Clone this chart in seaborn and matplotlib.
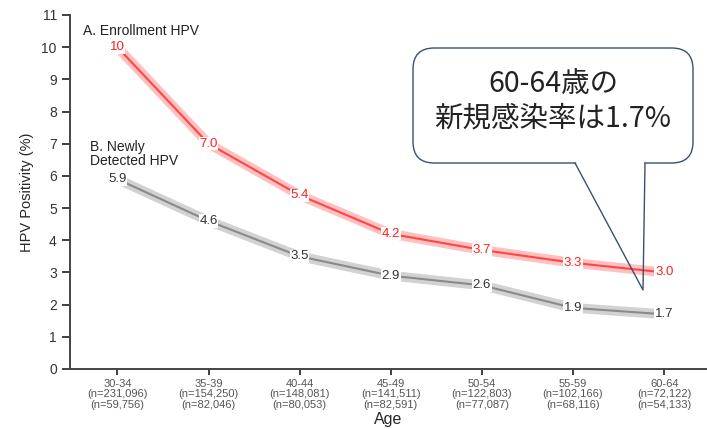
import matplotlib
matplotlib.use("Agg")
import matplotlib.pyplot as plt
import matplotlib.patheffects as pe
from matplotlib.patches import FancyBboxPatch, Polygon
from matplotlib.lines import Line2D
import pandas as pd
import seaborn as sns

# data
ages = ["30-34", "35-39", "40-44", "45-49", "50-54", "55-59", "60-64"]
n_enroll = ["231,096", "154,250", "148,081", "141,511", "122,803", "102,166", "72,122"]
n_new = ["59,756", "82,046", "80,053", "82,591", "77,087", "68,116", "54,133"]
enrollment = [10, 7.0, 5.4, 4.2, 3.7, 3.3, 3.0]
newly = [5.9, 4.6, 3.5, 2.9, 2.6, 1.9, 1.7]
enroll_labels = ["10", "7.0", "5.4", "4.2", "3.7", "3.3", "3.0"]
newly_labels = ["5.9", "4.6", "3.5", "2.9", "2.6", "1.9", "1.7"]

sns.set_style("ticks")
plt.rcParams["font.family"] = ["Liberation Sans", "DejaVu Sans"]

df = pd.DataFrame({
    "Age": ages * 2,
    "value": enrollment + newly,
    "series": ["A"] * len(ages) + ["B"] * len(ages),
})
df["x"] = list(range(len(ages))) * 2

W, H = 707, 429
fig = plt.figure(figsize=(W / 100, H / 100), dpi=100)
ax = fig.add_axes([70 / W, 1 - 369 / H, 1 - 70 / W, (369 - 15) / H])

sns.lineplot(data=df, x="x", y="value", hue="series",
             palette={"A": "#ff4545", "B": "#8a8a8a"}, linewidth=1.5,
             legend=False, ax=ax)
glow = {0: "#ffc0c0", 1: "#d2d2d2"}
for i, line in enumerate(ax.get_lines()):
    line.set_path_effects([pe.Stroke(linewidth=7, foreground=glow[i]), pe.Normal()])

for i in range(len(ages)):
    ax.text(i, enrollment[i], enroll_labels[i], color="#ff2020", fontsize=9.5,
            ha="center", va="center",
            bbox=dict(fc="white", ec="none", pad=0.5))
    ax.text(i, newly[i], newly_labels[i], color="#333333", fontsize=9.5,
            ha="center", va="center",
            bbox=dict(fc="white", ec="none", pad=0.5))

ax.text(-0.38, 10.5, "A. Enrollment HPV", fontsize=10, color="#222222", va="center")
ax.text(-0.3, 6.68, "B. Newly\nDetected HPV", fontsize=10, color="#222222",
        va="center", linespacing=1.05)

ax.set_xlim(-0.52, 6.47)
ax.set_ylim(0, 11)
ax.set_yticks(range(0, 12))
ax.set_xticks(range(len(ages)))
ax.set_xticklabels([f"{a}\n(n={e})\n(n={n})" for a, e, n in zip(ages, n_enroll, n_new)],
                   fontsize=8, linespacing=1.05)
ax.tick_params(axis="y", labelsize=10, length=6, width=1.3, colors="#333333")
ax.tick_params(axis="x", length=4, width=1.3, pad=3, colors="#333333", labelcolor="#555555")
ax.set_xlabel("Age", fontsize=11.5, va="top")
ax.xaxis.set_label_coords(0.5, -0.122)
ax.set_ylabel("HPV Positivity (%)", fontsize=10.5, labelpad=5)
for s in ["left", "bottom"]:
    ax.spines[s].set_linewidth(1.4)
    ax.spines[s].set_color("#444444")
sns.despine(ax=ax)

# speech-bubble callout (figure pixel coords)
def fx(x):
    return x / W

def fy(y):
    return 1 - y / H

navy = "#3c4f70"
box = FancyBboxPatch((fx(413), fy(163)), fx(693) - fx(413), fy(48) - fy(163),
                     boxstyle="round,pad=0,rounding_size=0.03",
                     transform=fig.transFigure, fc="white", ec=navy, lw=1.0,
                     mutation_aspect=W / H, zorder=5)
fig.add_artist(box)
cover = Polygon([(fx(576), fy(160)), (fx(644), fy(160)), (fx(644.5), fy(166)), (fx(576.5), fy(166))],
                closed=True, transform=fig.transFigure, fc="white", ec="none", zorder=6)
fig.add_artist(cover)
fig.add_artist(Line2D([fx(575), fx(643), fx(645)], [fy(163), fy(290), fy(163)],
                      transform=fig.transFigure, color=navy, lw=1.0, zorder=7))
fig.text(fx(553), fy(101), "60-64歳の\n新規感染率は1.7%", fontsize=20.5,
         family=["Noto Sans CJK JP", "DejaVu Sans"], color="#222222",
         ha="center", va="center", linespacing=1.2, zorder=8)

fig.savefig("out.png", dpi=100)
